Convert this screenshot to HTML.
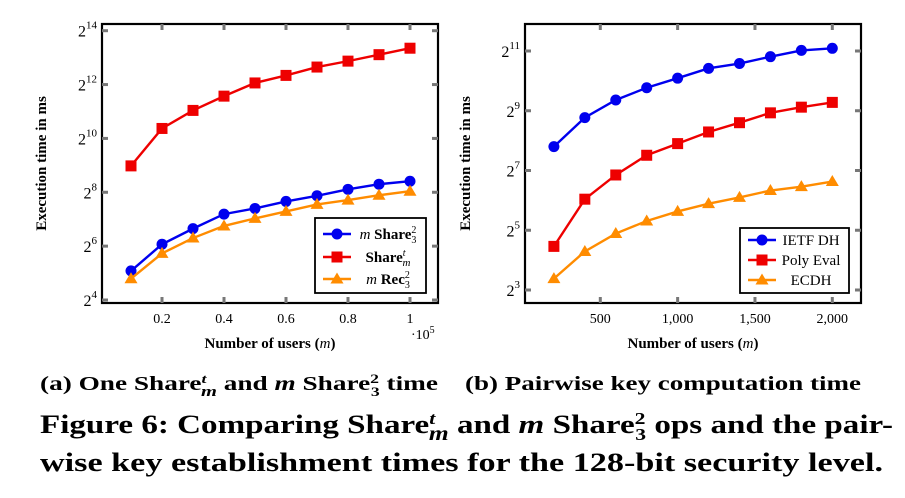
<!DOCTYPE html>
<html><head><meta charset="utf-8"><style>
body{margin:0;background:#fff}
svg{display:block;font-family:"Liberation Serif",serif}
</style></head><body>
<svg id="fig" width="905" height="498" viewBox="0 0 905 498">
<g id="chartA"></g>
<g id="chartB"></g>
<g font-weight="bold">
<text x="40" y="390" font-size="20" textLength="398" lengthAdjust="spacingAndGlyphs">(a) One Share<tspan dy="-7" font-size="13" font-style="italic">t</tspan><tspan dy="13" dx="-4" font-size="15" font-style="italic">m</tspan><tspan dy="-6"> and </tspan><tspan font-style="italic">m</tspan> Share<tspan dy="-7" font-size="13">2</tspan><tspan dy="13" dx="-6" font-size="13">3</tspan><tspan dy="-6"> time</tspan></text>
<text x="465" y="390" font-size="20" textLength="396" lengthAdjust="spacingAndGlyphs">(b) Pairwise key computation time</text>
<text x="40" y="433" font-size="26" textLength="853" lengthAdjust="spacingAndGlyphs">Figure 6: Comparing Share<tspan dy="-9" font-size="17" font-style="italic">t</tspan><tspan dy="16" dx="-5" font-size="20" font-style="italic">m</tspan><tspan dy="-7"> and </tspan><tspan font-style="italic">m</tspan> Share<tspan dy="-9" font-size="17">2</tspan><tspan dy="16" dx="-8" font-size="17">3</tspan><tspan dy="-7"> ops and the pair-</tspan></text>
<text x="40" y="471" font-size="26" textLength="843" lengthAdjust="spacingAndGlyphs">wise key establishment times for the 128-bit security level.</text>
</g>
</svg>
<script>
const NS="http://www.w3.org/2000/svg";
// Chart A data
const aX=[0.1,0.2,0.3,0.4,0.5,0.6,0.7,0.8,0.9,1.0];
const aBlue=[5.08,6.07,6.65,7.19,7.40,7.66,7.87,8.11,8.30,8.41];
const aRed=[8.98,10.37,11.04,11.57,12.06,12.34,12.65,12.87,13.11,13.35];
const aOrange=[4.79,5.73,6.30,6.75,7.03,7.29,7.55,7.71,7.89,8.04];
const aXTicks=[0.2,0.4,0.6,0.8,1];
const aXTickLabels=["0.2","0.4","0.6","0.8","1"];
const aYTicks=[4,6,8,10,12,14];
// Chart B data
const bX=[200,400,600,800,1000,1200,1400,1600,1800,2000];
const bBlue=[7.80,8.77,9.36,9.77,10.09,10.42,10.58,10.81,11.02,11.09];
const bRed=[4.46,6.04,6.85,7.51,7.90,8.29,8.60,8.93,9.12,9.28];
const bOrange=[3.38,4.29,4.89,5.31,5.63,5.89,6.10,6.33,6.46,6.63];
const bXTicks=[500,1000,1500,2000];
const bXTickLabels=["500","1,000","1,500","2,000"];
const bYTicks=[3,5,7,9,11];

function el(p,t,a,txt){const e=document.createElementNS(NS,t);for(const k in a)e.setAttribute(k,a[k]);if(txt!==undefined)e.textContent=txt;p.appendChild(e);return e;}
function marker(g,type,x,y,c){
  let m;
  if(type==="circle")m=el(g,"circle",{cx:x,cy:y,r:5.5,fill:c});
  else if(type==="square")m=el(g,"rect",{x:x-5.5,y:y-5.5,width:11,height:11,fill:c});
  else m=el(g,"polygon",{points:`${x},${y-6.5} ${x-6.5},${y+4.5} ${x+6.5},${y+4.5}`,fill:c});
  
  
}
function chart(g,cfg){
  const {L,R,T,B,xs,ys}=cfg;
  el(g,"rect",{x:L,y:T,width:R-L,height:B-T,fill:"none",stroke:"#000","stroke-width":2.2,});
  cfg.yTicks.forEach(v=>{const y=ys(v);
    el(g,"line",{x1:L,x2:L+6,y1:y,y2:y,stroke:"#777","stroke-width":3});
    el(g,"line",{x1:R-6,x2:R,y1:y,y2:y,stroke:"#777","stroke-width":3});
    const t=el(g,"text",{x:L-5,y:y+6,"font-size":16,"text-anchor":"end"});
    
    
    el(t,"tspan",{},"2");el(t,"tspan",{dy:-8,"font-size":11},String(v));
  });
  cfg.xTicks.forEach((v,i)=>{const x=xs(v);
    el(g,"line",{x1:x,x2:x,y1:B,y2:B-6,stroke:"#777","stroke-width":3});
    el(g,"line",{x1:x,x2:x,y1:T,y2:T+6,stroke:"#777","stroke-width":3});
    const t=el(g,"text",{x:x,y:B+20,"font-size":14,"text-anchor":"middle"},cfg.xLabels[i]);
    
    
  });
  const series=[[cfg.blue,"#0000ee","circle"],[cfg.red,"#ee0000","square"],[cfg.orange,"#ff8c00","tri"]];
  series.forEach(([d,c,m],si)=>{
    const sg=el(g,"g",{});
    
    
    el(sg,"polyline",{points:cfg.x.map((xv,i)=>xs(xv)+","+ys(d[i])).join(" "),fill:"none",stroke:c,"stroke-width":2.4});
    cfg.x.forEach((xv,i)=>marker(sg,m,xs(xv),ys(d[i]),c));
  });
  const yt=el(g,"text",{transform:`translate(${cfg.yTitleX},${(T+B)/2}) rotate(-90)`,"text-anchor":"middle","font-size":15,"font-weight":"bold"},"Execution time in ms");
  
  const xt=el(g,"text",{x:(L+R)/2,y:B+45,"text-anchor":"middle","font-size":15,"font-weight":"bold"});
  
  el(xt,"tspan",{},"Number of users (");el(xt,"tspan",{"font-style":"italic","font-weight":"normal"},"m");el(xt,"tspan",{},")");
  const lg=el(g,"g",{});
  
  const Lg=cfg.leg;
  el(lg,"rect",{x:Lg.x,y:Lg.y,width:Lg.w,height:Lg.h,fill:"#fff",stroke:"#000","stroke-width":1.8});
  series.forEach(([d,c,m],i)=>{
    const y=Lg.rows[i];
    el(lg,"line",{x1:Lg.lx1,x2:Lg.lx2,y1:y,y2:y,stroke:c,"stroke-width":2.4});
    marker(lg,m,(Lg.lx1+Lg.lx2)/2,y,c);
    const t=el(lg,"text",{x:Lg.tx,y:y+5,"font-size":15,"text-anchor":"middle"});
    
    Lg.labels[i](t);
  });
}
const A=document.getElementById("chartA");
chart(A,{L:102,R:438,T:24,B:303,x:aX,blue:aBlue,red:aRed,orange:aOrange,
  xs:v=>131+(v-0.1)*310, ys:v=>300-(v-4)*26.93,
  yTicks:aYTicks,xTicks:aXTicks,xLabels:aXTickLabels,yTitleX:46,
  leg:{x:315,y:218,w:111,h:75,rows:[234,257,279],lx1:323,lx2:351,tx:388,labels:[
    t=>{el(t,"tspan",{"font-style":"italic"},"m ");el(t,"tspan",{"font-weight":"bold"},"Share");el(t,"tspan",{dy:-6,"font-size":10},"2");el(t,"tspan",{dy:10,dx:-5,"font-size":10},"3");},
    t=>{el(t,"tspan",{"font-weight":"bold"},"Share");el(t,"tspan",{dy:-6,"font-size":10,"font-style":"italic"},"t");el(t,"tspan",{dy:10,dx:-3,"font-size":11,"font-style":"italic"},"m");},
    t=>{el(t,"tspan",{"font-style":"italic"},"m ");el(t,"tspan",{"font-weight":"bold"},"Rec");el(t,"tspan",{dy:-6,"font-size":10},"2");el(t,"tspan",{dy:10,dx:-5,"font-size":10},"3");}
  ]}});
const e5=el(A,"text",{x:411,y:339,"font-size":14},"·10");
el(e5,"tspan",{dy:-6,"font-size":10},"5");


const Bg=document.getElementById("chartB");
chart(Bg,{L:525,R:861,T:24,B:303,x:bX,blue:bBlue,red:bRed,orange:bOrange,
  xs:v=>600.3+(v-500)*0.15467, ys:v=>290-(v-3)*29.875,
  yTicks:bYTicks,xTicks:bXTicks,xLabels:bXTickLabels,yTitleX:470,
  leg:{x:740,y:228,w:109,h:65,rows:[240,260,280],lx1:748,lx2:776,tx:811,labels:[
    t=>{t.textContent="IETF DH";},t=>{t.textContent="Poly Eval";},t=>{t.textContent="ECDH";}
  ]}});
</script>
</body></html>
